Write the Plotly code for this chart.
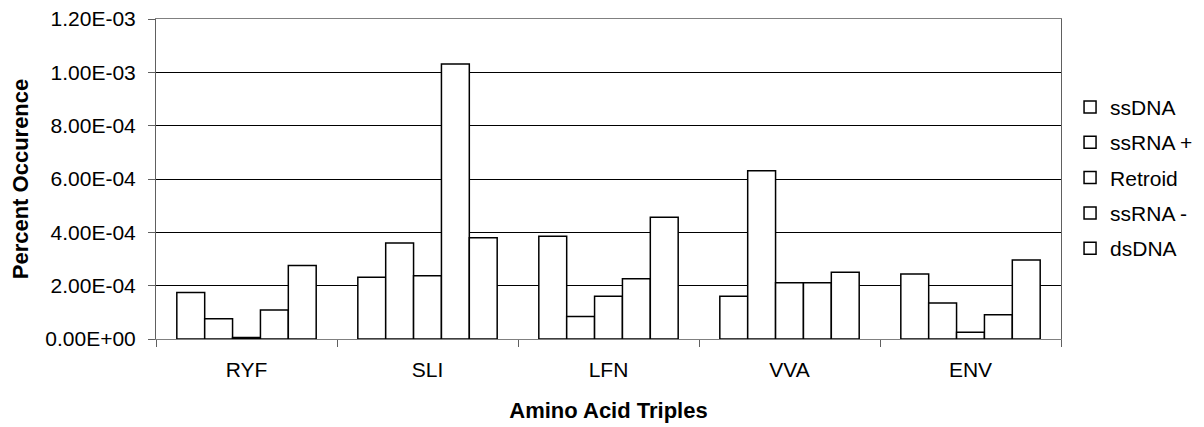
import plotly.graph_objects as go

categories = ["RYF", "SLI", "LFN", "VVA", "ENV"]
ssDNA = [1.74e-4, 2.32e-4, 3.85e-4, 1.60e-4, 2.44e-4]
ssRNA_plus = [0.76e-4, 3.60e-4, 0.84e-4, 6.31e-4, 1.35e-4]
retroid = [0.06e-4, 2.37e-4, 1.60e-4, 2.11e-4, 0.25e-4]
ssRNA_minus = [1.09e-4, 10.31e-4, 2.26e-4, 2.11e-4, 0.91e-4]
dsDNA = [2.76e-4, 3.80e-4, 4.57e-4, 2.50e-4, 2.96e-4]

series_names = ["ssDNA", "ssRNA +", "Retroid", "ssRNA -", "dsDNA"]
series_values = [ssDNA, ssRNA_plus, retroid, ssRNA_minus, dsDNA]

y_tick_values = [0, 2e-4, 4e-4, 6e-4, 8e-4, 1.0e-3, 1.2e-3]
y_tick_labels = ["0.00E+00", "2.00E-04", "4.00E-04", "6.00E-04", "8.00E-04", "1.00E-03", "1.20E-03"]

FONT = "Liberation Sans, Arial, sans-serif"

fig = go.Figure()
for i, (name, vals) in enumerate(zip(series_names, series_values)):
    fig.add_trace(go.Bar(
        x=categories, y=vals, name=name,
        marker=dict(color="white", line=dict(color="black", width=1.5)),
        legendgroup=f"g{i}",
    ))

fig.update_layout(
    width=1204, height=427,
    margin=dict(l=156, r=143, t=19, b=88, autoexpand=False),
    paper_bgcolor="white", plot_bgcolor="white",
    barmode="group", bargap=0.23, bargroupgap=0,
    font=dict(family=FONT, size=21, color="black"),
    showlegend=True,
    legend=dict(
        x=1.01, xanchor="left", y=0.788, yanchor="top",
        font=dict(family=FONT, size=21, color="black"),
        traceorder="grouped", tracegroupgap=5,
        bgcolor="rgba(0,0,0,0)", borderwidth=0,
        itemclick=False, itemdoubleclick=False,
    ),
    xaxis=dict(
        showline=True, linecolor="#808080", linewidth=1, mirror=True,
        ticks="outside", ticklen=7, tickcolor="#606060", tickson="boundaries",
        ticklabelstandoff=12,
        showgrid=False,
        tickfont=dict(family=FONT, size=21, color="black"),
        title=dict(text="<b>Amino Acid Triples</b>", font=dict(family=FONT, size=22, color="black"), standoff=22),
    ),
    yaxis=dict(
        range=[0, 1.2e-3],
        tickvals=y_tick_values, ticktext=y_tick_labels,
        showline=True, linecolor="#606060", linewidth=1, mirror=True,
        ticks="outside", ticklen=7, tickcolor="#606060",
        ticklabelstandoff=8,
        showgrid=True, gridcolor="black", gridwidth=1,
        zeroline=False,
        tickfont=dict(family=FONT, size=21, color="black"),
        title=dict(text="<b>Percent Occurence</b>", font=dict(family=FONT, size=22, color="black"), standoff=10),
    ),
)

fig.write_html("out.html")
